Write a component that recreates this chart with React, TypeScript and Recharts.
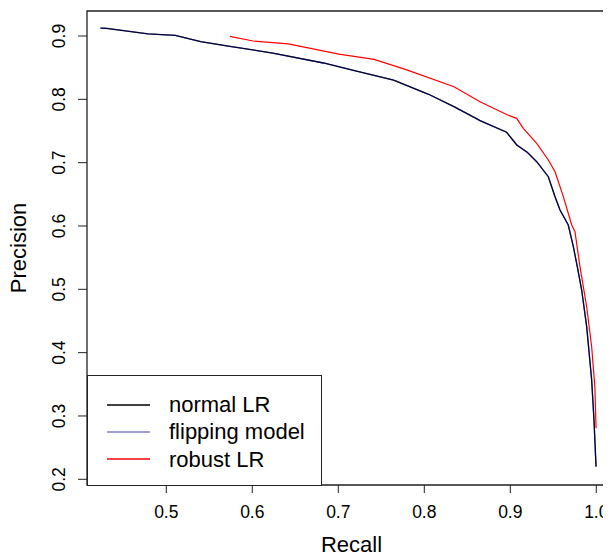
import React from 'react';
import { LineChart, Line, XAxis, YAxis, ReferenceArea, Label } from 'recharts';

// precision / recall points
const normalRecall = [0.4234, 0.43, 0.4787, 0.5104, 0.54, 0.5739, 0.6238, 0.6827, 0.72, 0.7643, 0.805, 0.835, 0.8648, 0.8957, 0.9074, 0.92, 0.9307, 0.9442, 0.9481, 0.952, 0.9578, 0.9674, 0.9733, 0.978, 0.983, 0.9888, 0.9946, 0.9973, 0.9997];
const normalPrecision = [0.9123, 0.912, 0.9034, 0.9011, 0.891, 0.8837, 0.8731, 0.8574, 0.845, 0.8305, 0.808, 0.788, 0.7663, 0.748, 0.7279, 0.716, 0.7015, 0.6778, 0.662, 0.6463, 0.6253, 0.6016, 0.5673, 0.535, 0.4989, 0.441, 0.3568, 0.2937, 0.22];

const flippingRecall = [0.4234, 0.43, 0.4787, 0.5104, 0.54, 0.5739, 0.6238, 0.6827, 0.72, 0.7643, 0.805, 0.835, 0.862, 0.8648, 0.8957, 0.905, 0.9074, 0.92, 0.9307, 0.9442, 0.9481, 0.952, 0.9578, 0.9674, 0.9733, 0.978, 0.983, 0.9888, 0.9946, 0.9973, 0.9997];
const flippingPrecision = [0.9123, 0.9125, 0.9034, 0.9011, 0.891, 0.8837, 0.8731, 0.8574, 0.845, 0.8305, 0.808, 0.788, 0.769, 0.7663, 0.748, 0.733, 0.7285, 0.716, 0.7015, 0.6778, 0.662, 0.6463, 0.6253, 0.6016, 0.5673, 0.535, 0.4989, 0.441, 0.3568, 0.2937, 0.22];

const robustRecall = [0.5739, 0.601, 0.6419, 0.7008, 0.7416, 0.7779, 0.8345, 0.8648, 0.8957, 0.9074, 0.9151, 0.9307, 0.9442, 0.952, 0.9617, 0.9714, 0.9752, 0.981, 0.9888, 0.9946, 0.9983, 0.9997];
const robustPrecision = [0.8994, 0.8921, 0.8877, 0.8714, 0.863, 0.8473, 0.8198, 0.7963, 0.776, 0.77, 0.7543, 0.7306, 0.7042, 0.6857, 0.6463, 0.6016, 0.591, 0.5357, 0.4725, 0.4094, 0.3463, 0.2806];

const xTicks = [0.5, 0.6, 0.7, 0.8, 0.9, 1.0];
const yTicks = [0.2, 0.3, 0.4, 0.5, 0.6, 0.7, 0.8, 0.9];
const xDomain = [0.4078, 1.0229];
const yDomain = [0.191, 0.9395];

const legendItems = [
  { name: 'normal LR', color: '#000000', opacity: 1 },
  { name: 'flipping model', color: '#00008B', opacity: 0.5 },
  { name: 'robust LR', color: '#FF0000', opacity: 1 },
];

const toPoints = (rs: number[], ps: number[]) => rs.map((r, i) => ({ r, p: ps[i] }));

const normalData = toPoints(normalRecall, normalPrecision);
const flippingData = toPoints(flippingRecall, flippingPrecision);
const robustData = toPoints(robustRecall, robustPrecision);

const font = '"Liberation Sans", Arial, Helvetica, sans-serif';
const axisColor = '#222';

const XTick = (props: any) => {
  const { x, y, payload } = props;
  return (
    <text x={x} y={y + 25} textAnchor="middle" fontSize={17.5} fontFamily={font} fill="#000">
      {payload.value.toFixed(1)}
    </text>
  );
};

const YTick = (props: any) => {
  const { x, y, payload } = props;
  const bx = x - 13;
  return (
    <text x={bx} y={y} transform={`rotate(-90, ${bx}, ${y})`} textAnchor="middle" fontSize={17.5} fontFamily={font} fill="#000">
      {payload.value.toFixed(1)}
    </text>
  );
};

const Legend = () => (
  <div
    style={{
      position: 'absolute',
      left: 87,
      top: 367,
      width: 233,
      height: 109,
      border: '1px solid #222',
      background: '#fff',
      fontFamily: font,
      fontSize: 22,
    }}
  >
    {legendItems.map((item, i) => (
      <div key={item.name} style={{ position: 'absolute', left: 19, top: 15 + i * 27.3, height: 27, display: 'flex', alignItems: 'center' }}>
        <svg width={43} height={4} style={{ display: 'block' }}>
          <line x1={0} x2={43} y1={2} y2={2} stroke={item.color} strokeOpacity={item.opacity} strokeWidth={1.3} />
        </svg>
        <span style={{ marginLeft: 19, lineHeight: '27px', color: '#000' }}>{item.name}</span>
      </div>
    ))}
  </div>
);

export default function App() {
  // shifted left over the body margin; the plot's right edge runs past the page and is clipped like the original
  return (
    <div style={{ position: 'relative', left: -8, width: 611, height: 548, overflow: 'hidden', background: '#fff' }}>
      <LineChart width={628} height={548} margin={{ top: 3, right: 12, bottom: 0, left: 8 }}>
        <XAxis
          type="number"
          dataKey="r"
          domain={xDomain}
          ticks={xTicks}
          allowDataOverflow
          axisLine={false}
          tickLine={{ stroke: axisColor }}
          tickSize={8}
          tickMargin={0}
          tick={<XTick />}
          height={71}
        >
          <Label
            content={(props: any) => {
              const vb = props.viewBox;
              return (
                <text x={vb.x + vb.width / 2} y={vb.y + 67} textAnchor="middle" fontSize={22} fontFamily={font} fill="#000">
                  Recall
                </text>
              );
            }}
          />
        </XAxis>
        <YAxis
          type="number"
          domain={yDomain}
          ticks={yTicks}
          allowDataOverflow
          axisLine={false}
          tickLine={{ stroke: axisColor }}
          tickSize={9}
          tickMargin={0}
          tick={<YTick />}
          width={79}
        >
          <Label
            content={(props: any) => {
              const vb = props.viewBox;
              const cx = 26;
              const cy = vb.y + vb.height / 2;
              return (
                <text x={cx} y={cy} transform={`rotate(-90, ${cx}, ${cy})`} textAnchor="middle" fontSize={22} fontFamily={font} fill="#000">
                  Precision
                </text>
              );
            }}
          />
        </YAxis>
        <ReferenceArea x1={xDomain[0]} x2={xDomain[1]} y1={yDomain[0]} y2={yDomain[1]} fill="none" stroke={axisColor} strokeWidth={1.3} ifOverflow="visible" />
        <Line data={normalData} dataKey="p" type="linear" stroke="#000" strokeWidth={1.3} dot={false} isAnimationActive={false} />
        <Line data={flippingData} dataKey="p" type="linear" stroke="#00008B" strokeOpacity={0.5} strokeWidth={1.3} dot={false} isAnimationActive={false} />
        <Line data={robustData} dataKey="p" type="linear" stroke="#FF0000" strokeWidth={1.2} dot={false} isAnimationActive={false} />
      </LineChart>
      <Legend />
    </div>
  );
}
